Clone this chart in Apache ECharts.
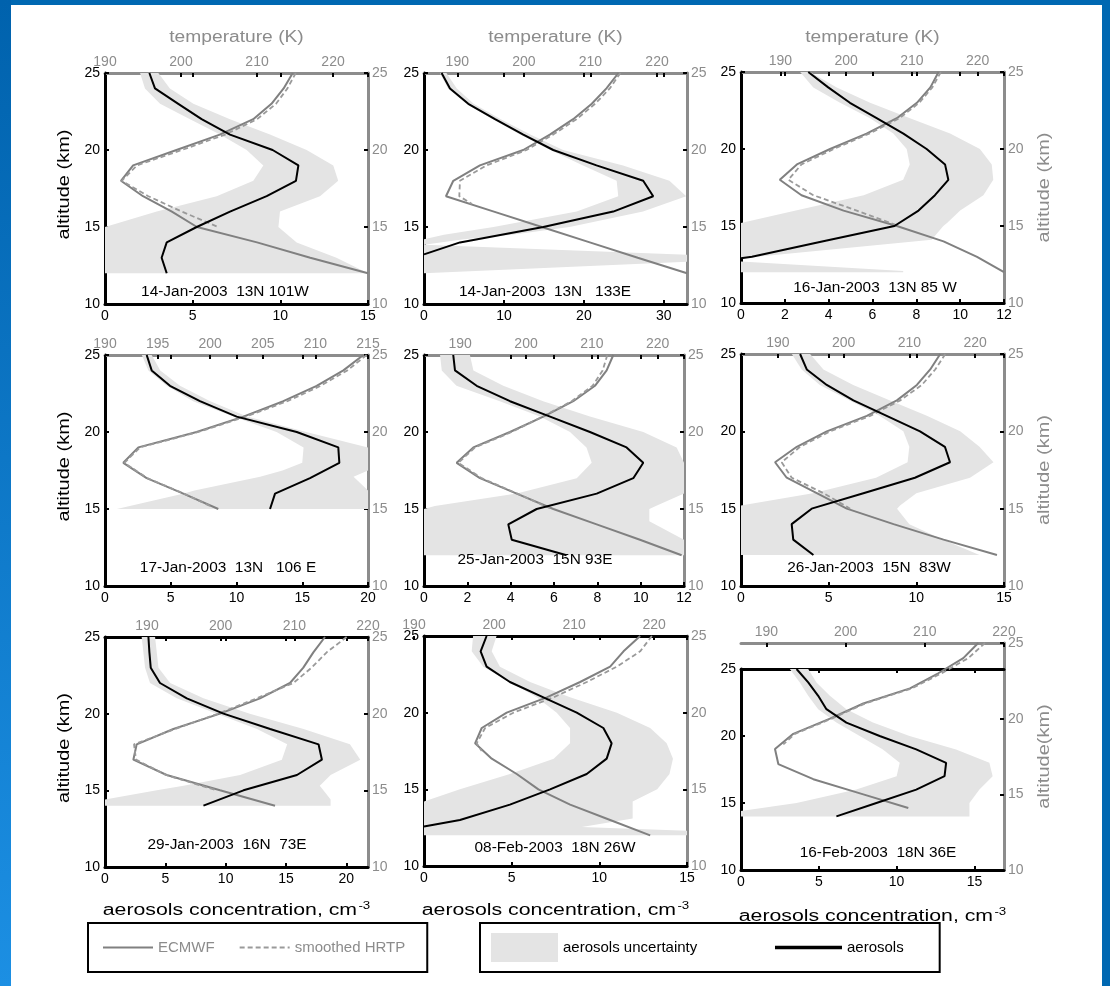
<!DOCTYPE html>
<html><head><meta charset="utf-8">
<script src="https://cdn.jsdelivr.net/npm/echarts@6/dist/echarts.min.js"></script>
<style>html,body{margin:0;padding:0;background:#fff}#c{width:1110px;height:986px}</style>
</head><body><div id="c"></div>
<script>
// ---------- DATA (aerosol: [concentration, altitude]; temperature: [K, altitude]; band: [altitude, low, high]) ----------
const altTicks = [10, 15, 20, 25];

const aero1 = [[2.53,25],[2.85,24],[4.18,23],[5.51,22],[7.13,21],[9.56,20],[11.03,19],[10.89,18],[9.22,17],[7.13,16],[5.23,15],[3.52,14],[3.23,13],[3.52,12]];
const band1 = [[25,2.0,3.04],[24,2.28,3.7],[23,3.14,5.04],[22,4.85,7.13],[21,6.56,9.41],[20,8.08,11.5],[19,9.03,13.02],[18,8.46,13.3],[17,6.37,12.26],[16,2.95,9.98],[15,0,9.89],[14,0,10.93],[13,0,13.2],[12,0,15]];
const ecmwf1 = [[214.7,25],[213.5,24],[211.9,23],[209.5,22],[205.1,21],[199.4,20],[193.7,19],[192.1,18],[195.0,17],[198.8,16],[202.1,15],[210.0,14],[217.0,13],[224.6,12]];
const hrtp1 = [[215.1,25],[214.0,24],[212.5,23],[210.0,22],[205.8,21],[200.1,20],[194.2,19],[192.2,18],[195.7,17],[200.1,16],[204.9,15]];

const aero2 = [[2.2,25],[3.25,24],[5.54,23],[8.88,22],[12.42,21],[16.17,20],[21.58,19],[27.42,18],[28.67,17],[23.67,16],[14.92,15],[4.5,14],[0,13.22]];
const band2 = [[25,2.0,2.8],[24,3.0,4.1],[23,5.3,6.2],[22,8.6,9.6],[21,12.0,13.3],[20,15.8,17.4],[19,19.9,24.9],[18,24.1,30.7],[17,24.3,32.8],[16,19.1,27.4],[15,8.7,18.2],[14.5,2.5,11.0],[14.2,0,5.0],[13.85,0,0],[13.2,0,32.9],[12.75,0,32.9],[12,0,0]];
const ecmwf2 = [[214.2,25],[212.4,24],[210.2,23],[207.4,22],[203.9,21],[199.9,20],[193.4,19],[189.4,18],[188.3,17],[195.5,16],[202.7,15],[209.9,14],[217.1,13],[224.5,12]];
const hrtp2 = [[214.5,25],[212.9,24],[210.7,23],[207.9,22],[204.4,21],[200.4,20],[194.4,19],[190.4,18],[190.3,17],[192.2,16.5]];

const aero3 = [[3.07,25],[3.98,24],[4.97,23],[6.19,22],[7.41,21],[8.47,20],[9.31,19],[9.46,18],[8.85,17],[8.1,16],[7.0,15],[3.7,14],[0.5,13],[0,12.9]];
const band3 = [[25,2.7,3.15],[24,3.3,4.37],[23,4.52,5.89],[22,5.89,7.71],[21,6.95,9.54],[20,7.56,10.9],[19,7.7,11.44],[18,7.4,11.51],[17,5.6,11.06],[16,2.5,10.0],[15.2,0,9.4],[15,0,9.23],[14.1,0,8.7],[12.9,0,0],[12.7,0,0],[12.07,0,7.4],[12,0,7.4]];
const ecmwf3 = [[214.05,25],[212.8,24],[210.75,23],[207.7,22],[203.1,21],[197.55,20],[192.5,19],[189.9,18],[193.2,17],[199.6,16],[207.7,15],[214.8,14],[219.9,13],[224.0,12]];
const hrtp3 = [[214.4,25],[213.1,24],[211.1,23],[208.1,22],[203.5,21],[198.1,20],[193.2,19],[191.2,18],[195.0,17],[201.6,16],[208.0,15]];

const aero4 = [[3.17,25],[3.55,24],[4.94,23],[7.22,22],[10.01,21],[14.58,20],[17.74,19],[17.82,18],[15.59,17],[12.93,16],[12.55,15]];
const band4 = [[25,2.8,3.55],[24,3.3,4.2],[23,4.7,5.7],[22,6.7,8.0],[21,9.76,10.8],[20,13.05,15.3],[19,15.1,20],[18,15.0,20],[17.5,13.5,20],[17.1,11.8,18.9],[16.2,6.8,20],[16,6.0,20],[15,0.9,20]];
const ecmwf4 = [[214.56,25],[212.66,24],[210.12,23],[206.95,22],[203.15,21],[198.71,20],[193.17,19],[191.74,18],[193.96,17],[197.45,16],[200.77,15]];
const hrtp4 = [[214.87,25],[213.04,24],[210.5,23],[207.33,22],[203.4,21],[198.87,20],[193.33,19],[191.84,18],[194.02,17],[197.51,16],[199.98,15.2]];

const aero5 = [[1.35,25],[1.43,24],[2.43,23],[3.97,22],[5.82,21],[7.66,20],[9.35,19],[10.12,18],[9.66,17],[7.97,16],[5.2,15],[3.89,14],[4.05,13],[6.58,12]];
const band5 = [[25,0.74,2.12],[24,0.82,2.28],[23,1.5,3.66],[22,3.5,5.5],[21,5.35,7.66],[20,6.74,10.12],[19,7.5,11.66],[18,7.74,12],[17,7.05,12],[16,4.28,12],[15.2,0.5,10.7],[15,0,10.4],[14.2,0,10.4],[13,0,12],[12,0,12]];
const ecmwf5 = [[213.26,25],[212.25,24],[210.47,23],[207.18,22],[202.63,21],[197.56,20],[192.0,19],[189.46,18],[193.0,17],[198.58,16],[204.15,15],[210.73,14],[217.31,13],[223.64,12]];
const hrtp5 = [[212.35,25],[211.64,24],[210.12,23],[206.93,22],[202.53,21],[197.82,20],[192.25,19],[189.72,18],[193.26,17],[198.68,16],[203.89,15]];

const aero6 = [[3.37,25],[3.75,24],[4.89,23],[6.41,22],[8.31,21],[10.21,20],[11.63,19],[11.92,18],[9.92,17],[6.98,16],[4.03,15],[2.89,14],[2.98,13],[4.13,12]];
const band6 = [[25,2.9,3.94],[24,3.46,4.7],[23,4.5,6.4],[22,6.2,8.5],[21,7.9,10.6],[20,9.26,12.5],[19,9.6,13.6],[18,9.5,14.4],[17,7.7,13.06],[16,4.1,10.0],[15.2,0,9.07],[15,0,8.9],[14,0,9.6],[13,0,11.5],[12,0,13.6]];
const ecmwf6 = [[214.7,25],[213.18,24],[211.15,23],[208.11,22],[203.54,21],[197.45,20],[192.88,19],[189.58,18],[191.35,17],[195.92,16],[200.49,15],[207.6,14],[215.21,13],[223.33,12]];
const hrtp6 = [[215.47,25],[213.94,24],[211.91,23],[208.61,22],[204.04,21],[197.95,20],[193.38,19],[190.59,18],[192.12,17],[196.94,16],[201.0,15]];

const aero7 = [[3.6,25],[3.68,24],[3.79,23],[4.56,22],[6.78,21],[9.82,20],[13.69,19],[17.7,18],[17.98,17],[15.91,16],[11.48,15],[8.16,14]];
const band7 = [[25,3.04,4.15],[24,3.18,4.29],[23,3.32,4.43],[22,3.73,5.4],[21,5.95,8.16],[20,9.27,12.0],[19,12.6,16.46],[18,15.1,20.3],[17,14.66,21.16],[16,11.2,18.7],[15.3,6.5,17.8],[15,4.3,18.1],[14.4,0,18.7],[14,0,18.7]];
const ecmwf7 = [[214.16,25],[212.58,24],[211.22,23],[209.41,22],[205.34,21],[199.91,20],[193.58,19],[188.6,18],[188.15,17],[192.67,16],[199.91,15],[207.38,14]];
const hrtp7 = [[217.1,25],[214.39,24],[212.35,23],[209.87,22],[204.89,21],[199.68,20],[193.8,19],[188.24,18],[188.51,17],[192.58,16],[199.46,15]];

const aero8 = [[3.57,25],[3.23,24],[3.57,23],[4.9,22],[6.81,21],[8.71,20],[10.23,19],[10.7,18],[10.42,17],[9.28,16],[7.19,15],[4.9,14],[2.05,13],[0,12.57]];
const band8 = [[25,2.8,4.14],[24,2.72,3.86],[23,3.38,4.33],[22,4.9,6.05],[21,6.43,8.33],[20,7.57,11.0],[19,8.33,12.9],[18,8.33,13.84],[17,7.4,14.2],[16,4.9,14.0],[15,2.05,13.3],[14.2,0,11.9],[13.1,0,11.9],[12.55,0,9.0],[12.3,0,15],[12,0,15]];
const ecmwf8 = [[218.25,25],[216.17,24],[214.5,23],[210.75,22],[206.58,21],[201.58,20],[198.46,19],[197.63,18],[199.71,17],[202.83,16],[205.54,15],[209.5,14],[214.5,13],[219.5,12]];
const hrtp8 = [[219.71,25],[218.25,24],[215.33,23],[211.58,22],[207.42,21],[202.42,20],[198.88,19],[197.83,18],[198.46,17.5]];

const aero9 = [[3.57,25],[4.32,24],[4.96,23],[5.49,22],[6.77,21],[8.91,20],[11.26,19],[13.18,18],[13.08,17],[11.26,16],[8.7,15],[6.13,14]];
const band9 = [[25,3.14,4.32],[24,3.78,4.85],[23,4.32,5.71],[22,4.96,6.77],[21,6.13,8.48],[20,7.63,10.83],[19,9.12,13.82],[18,10.2,15.96],[17,10.0,16.17],[16,7.41,15.32],[15,3.57,14.68],[14.4,0,14.68],[14,0,14.68]];
const ecmwf9 = [[216.75,25],[214.86,24],[211.7,23],[208.13,22],[202.24,21],[198.03,20],[193.4,19],[191.09,18],[191.51,17],[195.93,16],[202.24,15],[207.92,14.1]];
const hrtp9 = [[217.6,25],[215.49,24],[212.13,23],[208.34,22],[202.45,21],[198.24,20],[193.62,19],[192.14,18.3]];

// axis ranges & tick labels
const aeroMax   = [15, 32.9, 12, 20, 12, 15, 21.8, 15, 16.9];
const aeroTicks = [[0,5,10,15],[0,10,20,30],[0,2,4,6,8,10,12],[0,5,10,15,20],[0,2,4,6,8,10,12],[0,5,10,15],[0,5,10,15,20],[0,5,10,15],[0,5,10,15]];
const tempRange = [[190,224.6],[185,224.5],[184,224],[190,215],[184.5,224],[184.4,224.4],[184.3,220],[189.5,224.1],[186.8,220]];
const tempTicks = [[190,200,210,220],[190,200,210,220],[190,200,210,220],[190,195,200,205,210,215],[190,200,210,220],[190,200,210,220],[190,200,210,220],[190,200,210,220],[190,200,210,220]];
const panelLabels = ['14-Jan-2003  13N 101W','14-Jan-2003  13N   133E','16-Jan-2003  13N 85 W','17-Jan-2003  13N   106 E','25-Jan-2003  15N 93E','26-Jan-2003  15N  83W','29-Jan-2003  16N  73E','08-Feb-2003  18N 26W','16-Feb-2003  18N 36E'];
const leftNames  = ['altitude (km)', '', '', 'altitude (km)', '', '', 'altitude (km)', '', ''];
const rightNames = ['', '', 'altitude (km)', '', '', 'altitude (km)', '', '', 'altitude(km)'];
const topName = 'temperature (K)';
const bottomName = 'aerosols concentration, cm';
const bottomSup = '-3';

// ---------- LAYOUT ----------
const layout = [
  {a:[105,73,368,304], topColor:'gray', label:[225,292]},
  {a:[424,73,687,304], topColor:'gray', label:[545,292]},
  {a:[741,72,1004,303], topColor:'gray', label:[875,288]},
  {a:[105,355,368,586], topColor:'gray', label:[228,568]},
  {a:[424,355,684,586], topColor:'gray', label:[535,560]},
  {a:[741,354,1004,586], topColor:'gray', label:[869,568]},
  {a:[105,637,368,867], topColor:'black', label:[227,845]},
  {a:[424,636,687,866], t:[410,636,687,866], topColor:'black', label:[555,848]},
  {a:[741,669,1004,870], t:[741,643,1004,870], topColor:'black', tLine:true, label:[878,853]}
];

const aeroS = [aero1,aero2,aero3,aero4,aero5,aero6,aero7,aero8,aero9];
const bandS = [band1,band2,band3,band4,band5,band6,band7,band8,band9];
const ecmwfS = [ecmwf1,ecmwf2,ecmwf3,ecmwf4,ecmwf5,ecmwf6,ecmwf7,ecmwf8,ecmwf9];
const hrtpS = [hrtp1,hrtp2,hrtp3,hrtp4,hrtp5,hrtp6,hrtp7,hrtp8,hrtp9];

const GRAY = '#8c8c8c', BAND = '#e4e4e4', FONT = 'Liberation Sans, Arial, sans-serif';
const col = c => c === 'black' ? '#000' : GRAY;

const grids = [], xAxes = [], yAxes = [], series = [], graphics = [];

function titleText(x, y, text, color, size, sx, rot) {
  return {type:'text', x:x, y:y, rotation:rot || 0, scaleX:sx, z:10, silent:true,
    style:{text:text, fill:color, font:size + 'px ' + FONT, textAlign:'center', textVerticalAlign:'middle'}};
}

layout.forEach((L, i) => {
  const a = L.a, t = L.t || L.a;
  const gA = grids.length;
  grids.push({left:a[0], top:a[1], width:a[2]-a[0], height:a[3]-a[1], containLabel:false});
  const gT = grids.length;
  grids.push({left:t[0], top:t[1], width:t[2]-t[0], height:t[3]-t[1], containLabel:false});
  const tickStyle = {show:true, inside:true, length:4, lineStyle:{color:'#000', width:2}};

  const xb = xAxes.length;
  xAxes.push({type:'value', gridIndex:gA, position:'bottom', min:0, max:aeroMax[i],
    axisLine:{show:true, onZero:false, lineStyle:{color:'#000', width:3}},
    axisTick:Object.assign({customValues:aeroTicks[i]}, tickStyle),
    axisLabel:{color:'#000', fontSize:14, margin:5, fontFamily:FONT, customValues:aeroTicks[i]},
    splitLine:{show:false}});
  xAxes.push({type:'value', gridIndex:gA, position:'top', min:0, max:aeroMax[i],
    axisLine:{show:true, onZero:false, lineStyle:{color:col(L.topColor), width:3}},
    axisTick:Object.assign({customValues:aeroTicks[i]}, tickStyle),
    axisLabel:{show:false}, splitLine:{show:false}});
  const xt = xAxes.length;
  xAxes.push({type:'value', gridIndex:gT, position:'top', min:tempRange[i][0], max:tempRange[i][1],
    axisLine:{show:!!L.tLine, onZero:false, lineStyle:{color:GRAY, width:3}},
    axisTick:Object.assign({customValues:tempTicks[i]}, tickStyle),
    axisLabel:{color:GRAY, fontSize:14, margin:4, fontFamily:FONT, customValues:tempTicks[i]},
    splitLine:{show:false}});
  const yl = yAxes.length;
  yAxes.push({type:'value', gridIndex:gA, position:'left', min:10, max:25,
    axisLine:{show:true, onZero:false, lineStyle:{color:'#000', width:3}},
    axisTick:Object.assign({customValues:altTicks}, tickStyle),
    axisLabel:{color:'#000', fontSize:14, margin:5, fontFamily:FONT, customValues:altTicks},
    splitLine:{show:false}});
  const yr = yAxes.length;
  yAxes.push({type:'value', gridIndex:gT, position:'right', min:10, max:25,
    axisLine:{show:true, onZero:false, lineStyle:{color:GRAY, width:3}},
    axisTick:Object.assign({customValues:altTicks}, tickStyle),
    axisLabel:{color:GRAY, fontSize:14, margin:4, fontFamily:FONT, customValues:altTicks},
    splitLine:{show:false}});

  const band = bandS[i];
  series.push({type:'custom', name:'aerosols uncertainty', xAxisIndex:xb, yAxisIndex:yl, z:1, clip:true,
    itemStyle:{color:BAND}, silent:true,
    data:[[0,10]],
    renderItem:(params, api) => {
      const pts = [];
      band.forEach(r => pts.push(api.coord([r[2], r[0]])));
      for (let k = band.length-1; k >= 0; k--) pts.push(api.coord([band[k][1], band[k][0]]));
      return {type:'polygon', shape:{points:pts}, style:{fill:BAND}};
    }});
  series.push({type:'line', name:'ECMWF', xAxisIndex:xt, yAxisIndex:yr, data:ecmwfS[i], symbol:'none', z:3,
    lineStyle:{color:'#808080', width:2}, itemStyle:{color:'#808080'}, silent:true});
  series.push({type:'line', name:'smoothed HRTP', xAxisIndex:xt, yAxisIndex:yr, data:hrtpS[i], symbol:'none', z:3,
    lineStyle:{color:'#9a9a9a', width:1.8, type:[5,3]}, itemStyle:{color:'#9a9a9a'}, silent:true});
  series.push({type:'line', name:'aerosols', xAxisIndex:xb, yAxisIndex:yl, data:aeroS[i], symbol:'none', z:4,
    lineStyle:{color:'#000', width:2}, itemStyle:{color:'#000'}, silent:true});

  graphics.push(titleText(L.label[0], L.label[1], panelLabels[i], '#000', 14, 1.1));

  // axis titles
  const cx = (a[0] + a[2]) / 2;
  if (i < 3) graphics.push(titleText(cx, 38, topName, GRAY, 16, 1.2));
  if (leftNames[i]) graphics.push(titleText(65, (a[1] + a[3]) / 2 - 4, leftNames[i], '#000', 16, 1.25, Math.PI / 2));
  if (rightNames[i]) graphics.push(titleText(1045, (t[1] + t[3]) / 2, rightNames[i], GRAY, 16, 1.25, Math.PI / 2));
  if (i >= 6) graphics.push({type:'text', x:cx, y:(i === 8 ? 917 : 911), scaleX:1.33, z:10, silent:true,
    style:{text:'{m|' + bottomName + '}{s|' + bottomSup + '}', textAlign:'center', textVerticalAlign:'middle',
      rich:{m:{fontSize:16, fontFamily:FONT, fill:'#000', color:'#000'},
            s:{fontSize:10, fontFamily:FONT, fill:'#000', color:'#000', padding:[0,0,10,1]}}}});
});

// blue page frame
graphics.push({type:'rect', z:-10, shape:{x:0, y:0, width:1110, height:5}, style:{fill:'#0068b2'}});
graphics.push({type:'rect', z:-10, shape:{x:0, y:0, width:11, height:986},
  style:{fill:new echarts.graphic.LinearGradient(0,0,0,1,[{offset:0,color:'#0062ad'},{offset:1,color:'#1c8fe3'}])}});
graphics.push({type:'rect', z:-10, shape:{x:1102, y:0, width:8, height:986}, style:{fill:'#0068b2'}});

const chart = echarts.init(document.getElementById('c'), null, {renderer:'canvas', width:1110, height:986});
chart.setOption({
  animation:false,
  backgroundColor:'#fff',
  textStyle:{fontFamily:FONT},
  grid:grids, xAxis:xAxes, yAxis:yAxes, series:series,
  legend:[
    {left:88, top:923, orient:'horizontal', selectedMode:false, data:['ECMWF','smoothed HRTP'],
     itemStyle:{opacity:0},
     borderColor:'#000', borderWidth:2, padding:[17,22,17,14], itemWidth:50, itemHeight:14, itemGap:24,
     textStyle:{color:GRAY, fontSize:15, fontFamily:FONT}},
    {left:480, top:923, orient:'horizontal', selectedMode:false, itemStyle:{opacity:0},
     data:[{name:'aerosols uncertainty', icon:'rect', itemStyle:{color:BAND, opacity:1}}, {name:'aerosols', lineStyle:{width:3.5}}],
     borderColor:'#000', borderWidth:2, padding:[10,36,10,11], itemWidth:67, itemHeight:29, itemGap:76,
     textStyle:{color:'#000', fontSize:15, fontFamily:FONT}}
  ],
  graphic:graphics
});
</script></body></html>
